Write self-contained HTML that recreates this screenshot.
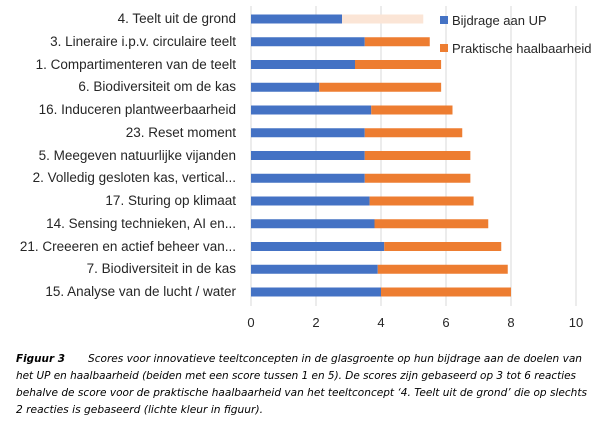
<!DOCTYPE html>
<html><head><meta charset="utf-8"><style>
html,body{margin:0;padding:0;background:#fff;}
svg{display:block;}
text{font-family:"Liberation Sans",sans-serif;}
.l{font-size:13.5px;fill:#262626;text-anchor:end;}
.t{font-size:13px;fill:#262626;text-anchor:middle;}
.c{font-family:"DejaVu Sans",sans-serif;font-style:italic;font-size:10.5px;fill:#000;}
</style></head><body>
<svg width="600" height="430" xmlns="http://www.w3.org/2000/svg">
<g stroke="#d9d9d9" stroke-width="1">
<line x1="251" y1="6" x2="251" y2="306"/>
<line x1="316" y1="6" x2="316" y2="306"/>
<line x1="381" y1="6" x2="381" y2="306"/>
<line x1="446" y1="6" x2="446" y2="306"/>
<line x1="511" y1="6" x2="511" y2="306"/>
<line x1="576" y1="6" x2="576" y2="306"/>
</g>
<g fill="#4472c4">
<rect x="251" y="14.5" width="91" height="9"/>
<rect x="251" y="37.25" width="113.75" height="9"/>
<rect x="251" y="60" width="104" height="9"/>
<rect x="251" y="82.75" width="68.25" height="9"/>
<rect x="251" y="105.5" width="120.25" height="9"/>
<rect x="251" y="128.25" width="113.75" height="9"/>
<rect x="251" y="151" width="113.75" height="9"/>
<rect x="251" y="173.75" width="113.75" height="9"/>
<rect x="251" y="196.5" width="118.6" height="9"/>
<rect x="251" y="219.25" width="123.5" height="9"/>
<rect x="251" y="242" width="133.25" height="9"/>
<rect x="251" y="264.75" width="126.75" height="9"/>
<rect x="251" y="287.5" width="130" height="9"/>
</g>
<rect x="342" y="14.5" width="81.25" height="9" fill="#fbe5d6"/>
<g fill="#ed7d31">
<rect x="364.75" y="37.25" width="65" height="9"/>
<rect x="355" y="60" width="86.1" height="9"/>
<rect x="319.25" y="82.75" width="121.9" height="9"/>
<rect x="371.25" y="105.5" width="81.25" height="9"/>
<rect x="364.75" y="128.25" width="97.5" height="9"/>
<rect x="364.75" y="151" width="105.6" height="9"/>
<rect x="364.75" y="173.75" width="105.6" height="9"/>
<rect x="369.6" y="196.5" width="104" height="9"/>
<rect x="374.5" y="219.25" width="113.75" height="9"/>
<rect x="384.25" y="242" width="117" height="9"/>
<rect x="377.75" y="264.75" width="130" height="9"/>
<rect x="381" y="287.5" width="130" height="9"/>
</g>
<g>
<text class="l" x="236" y="23">4. Teelt uit de grond</text>
<text class="l" x="236" y="46">3. Lineraire i.p.v. circulaire teelt</text>
<text class="l" x="236" y="69">1. Compartimenteren van de teelt</text>
<text class="l" x="236" y="91">6. Biodiversiteit om de kas</text>
<text class="l" x="236" y="114">16. Induceren plantweerbaarheid</text>
<text class="l" x="236" y="137">23. Reset moment</text>
<text class="l" x="236" y="160">5. Meegeven natuurlijke vijanden</text>
<text class="l" x="236" y="182">2. Volledig gesloten kas, vertical...</text>
<text class="l" x="236" y="205">17. Sturing op  klimaat</text>
<text class="l" x="236" y="228">14. Sensing technieken, AI en...</text>
<text class="l" x="236" y="251">21. Creeeren en actief beheer van...</text>
<text class="l" x="236" y="273">7. Biodiversiteit in de kas</text>
<text class="l" x="236" y="296">15. Analyse van de lucht / water</text>
</g>
<g>
<text class="t" x="251" y="327">0</text>
<text class="t" x="316" y="327">2</text>
<text class="t" x="381" y="327">4</text>
<text class="t" x="446" y="327">6</text>
<text class="t" x="511" y="327">8</text>
<text class="t" x="576" y="327">10</text>
</g>
<rect x="440" y="16" width="8" height="8" fill="#4472c4"/>
<text x="452" y="25" style="font-size:13px;fill:#262626">Bijdrage aan UP</text>
<rect x="440" y="44" width="8" height="8" fill="#ed7d31"/>
<text x="452" y="53" style="font-size:13px;fill:#262626">Praktische haalbaarheid</text>
<text class="c" x="16" y="362" font-weight="bold" textLength="49" lengthAdjust="spacingAndGlyphs">Figuur 3</text>
<text class="c" x="88" y="362" textLength="494" lengthAdjust="spacingAndGlyphs">Scores voor innovatieve teeltconcepten in de glasgroente op hun bijdrage aan de doelen van</text>
<text class="c" x="16" y="379" textLength="560" lengthAdjust="spacingAndGlyphs">het UP en haalbaarheid (beiden met een score tussen 1 en 5). De scores zijn gebaseerd op 3 tot 6 reacties</text>
<text class="c" x="16" y="396" textLength="571" lengthAdjust="spacingAndGlyphs">behalve de score voor de praktische haalbaarheid van het teeltconcept ‘4. Teelt uit de grond’ die op slechts</text>
<text class="c" x="16" y="413" textLength="247" lengthAdjust="spacingAndGlyphs">2 reacties is gebaseerd (lichte kleur in figuur).</text>
</svg>
</body></html>
